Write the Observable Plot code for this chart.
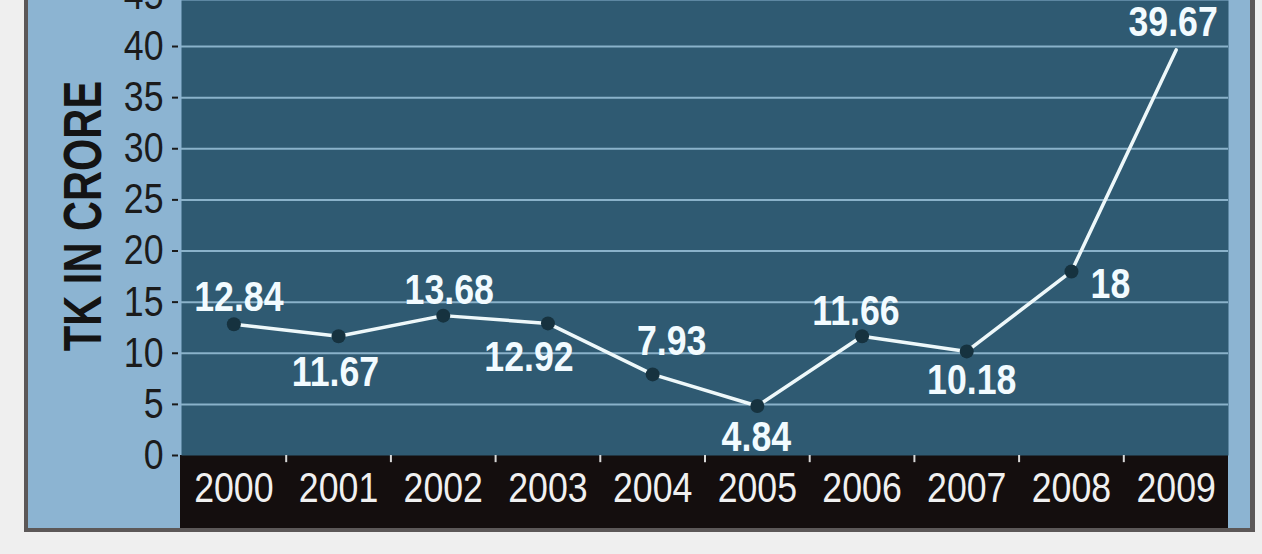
<!DOCTYPE html>
<html>
<head>
<meta charset="utf-8">
<script src="https://cdn.jsdelivr.net/npm/d3@7"></script>
<script src="https://cdn.jsdelivr.net/npm/@observablehq/plot@0.6"></script>
<style>
  html, body { margin: 0; padding: 0; background: #efefef; }
  #wrap { position: relative; width: 1262px; height: 554px; overflow: hidden; background: #efefef; }
  .deco { position: absolute; }
  #chart { position: absolute; left: 0; top: 0; }
  #chart svg { background: transparent !important; overflow: visible; }
</style>
</head>
<body>
<div id="wrap">
  <div class="deco" style="left:24px; top:-10px; width:1231px; height:542px; background:#5c5858;"></div>
  <div class="deco" style="left:28px; top:-10px; width:1222px; height:538px; background:#8cb4d2;"></div>
  <div class="deco" style="left:180px; top:455px; width:1048px; height:73px; background:#140e0e;"></div>
  <div id="chart"></div>
</div>
<script>
// Data
const years = [2000, 2001, 2002, 2003, 2004, 2005, 2006, 2007, 2008, 2009];
const values = [12.84, 11.67, 13.68, 12.92, 7.93, 4.84, 11.66, 10.18, 18, 39.67];
const valueLabels = ["12.84", "11.67", "13.68", "12.92", "7.93", "4.84", "11.66", "10.18", "18", "39.67"];
const yTicks = [0, 5, 10, 15, 20, 25, 30, 35, 40, 45];
const yTitle = "TK IN CRORE";

const data = years.map((y, i) => ({year: y, value: values[i], label: valueLabels[i]}));
const boundaries = years.slice(0, -1).map(y => y + 0.5);

// label placement (layout, not data)
const offsets = {
  2000: [5, -27], 2001: [-3, 36], 2002: [6, -25], 2003: [-19, 34], 2004: [19, -33],
  2005: [-1, 32], 2006: [-6, -25], 2007: [5, 29], 2008: [39, 13], 2009: [-3, -27]
};

const FONT = "'Liberation Sans', Arial, sans-serif";
const NARROW = 0.85;

const labelMarks = data.map(d => Plot.text([d], {
  x: "year", y: "value", text: "label",
  dx: offsets[d.year][0], dy: offsets[d.year][1],
  fill: "#f2fbff", fontSize: 42, fontWeight: "bold", fontFamily: FONT
}));

const plot = Plot.plot({
  width: 1262,
  height: 554,
  marginLeft: 181,
  marginRight: 34,
  marginTop: 0,
  marginBottom: 99,
  style: {background: "transparent", fontFamily: FONT, overflow: "visible"},
  x: {domain: [1999.5, 2009.5], axis: null},
  y: {domain: [0, 44.5], axis: null},
  marks: [
    Plot.frame({fill: "#2f5a72", stroke: null}),
    Plot.gridY(yTicks.filter(t => t > 0 && t < 44.5), {stroke: "#8ab2ca", strokeOpacity: 1, strokeWidth: 2}),
    Plot.axisY({ticks: yTicks, tickSize: 6, dx: -3, tickPadding: 9, fontSize: 42, fill: "#1b1b1b", stroke: "#1b1b1b", strokeWidth: 2, label: null, fontFamily: FONT}),
    Plot.ruleX(boundaries, {y1: 0, y2: -0.7, stroke: "#d8d8d8", strokeWidth: 2}),
    Plot.text(years, {x: d => d, y: () => 0, dy: 33, text: d => String(d), fill: "#f0f0f0", fontSize: 42, fontFamily: FONT}),
    Plot.line(data, {x: "year", y: "value", stroke: "#eef8fa", strokeWidth: 3.5}),
    Plot.dot(data.filter(d => d.year !== 2009), {x: "year", y: "value", r: 7, fill: "#16323f", stroke: null}),
    ...labelMarks
  ]
});

// narrow the type horizontally (condensed look), scaling around each text's anchor
plot.querySelectorAll("text").forEach(t => {
  const xa = t.getAttribute("x");
  let x = 0;
  if (xa != null && !/[a-z%]/i.test(xa)) { x = parseFloat(xa) || 0; t.removeAttribute("x"); }
  const tr = t.getAttribute("transform") || "";
  t.setAttribute("transform", `${tr} translate(${x},0) scale(${NARROW},1)`.trim());
});
document.getElementById("chart").appendChild(plot);

// y-axis title
const title = document.createElement("div");
title.textContent = yTitle;
title.style.cssText = `position:absolute; left:82px; top:216px; transform: translate(-50%,-50%) rotate(-90deg) scaleX(0.77); font-family:${FONT}; font-weight:bold; font-size:54px; color:#141414; white-space:nowrap; line-height:1;`;
document.getElementById("wrap").appendChild(title);
</script>
</body>
</html>
